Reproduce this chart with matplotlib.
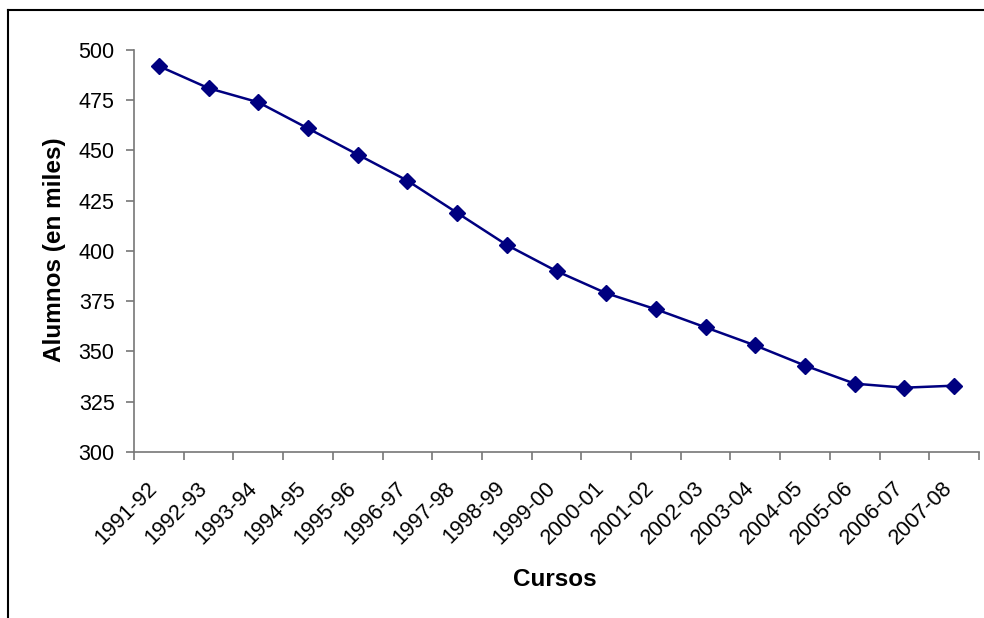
import matplotlib
matplotlib.use('Agg')
import matplotlib.pyplot as plt
import matplotlib.transforms as mtransforms
from matplotlib.lines import Line2D
import numpy as np

cursos = ['1991-92', '1992-93', '1993-94', '1994-95', '1995-96', '1996-97',
          '1997-98', '1998-99', '1999-00', '2000-01', '2001-02', '2002-03',
          '2003-04', '2004-05', '2005-06', '2006-07', '2007-08']
alumnos = [492, 481, 474, 461, 448, 435, 419, 403, 390, 379, 371, 362,
           353, 343, 334, 332, 333]
y_ticks = [300, 325, 350, 375, 400, 425, 450, 475, 500]

plt.rcParams['font.family'] = ['Liberation Sans', 'DejaVu Sans']

fig = plt.figure(figsize=(9.84, 6.18), dpi=100)
ax = fig.add_axes([134 / 984, 1 - 452 / 618, (979 - 134) / 984, (452 - 50) / 618])

x = np.arange(len(cursos))
ax.plot(x, alumnos, color='#000080', linewidth=1.8, marker='D',
        markersize=8, markerfacecolor='#000080', markeredgecolor='#000080')

ax.set_xlim(-0.5, len(cursos) - 0.5)
ax.set_ylim(300, 500)
ax.set_yticks(y_ticks)
ax.set_yticklabels([str(v) for v in y_ticks], fontsize=15.5)

# category labels at centres, tick marks between categories
ax.set_xticks(x)
ax.set_xticklabels(cursos, rotation=45, ha='right', rotation_mode='anchor', fontsize=15.5)
ax.set_xticks(np.arange(len(cursos) + 1) - 0.5, minor=True)
ax.tick_params(axis='x', which='major', length=0, pad=12)
ax.tick_params(axis='x', which='minor', length=6, width=1.2, color='#777777', direction='out')
ax.tick_params(axis='y', length=6, width=1.2, color='#777777', direction='out', pad=8)

# nudge rotated labels so their ends sit just left of the category centre
offset = mtransforms.ScaledTranslation(-12 / 100, -9 / 100, fig.dpi_scale_trans)
for lbl in ax.get_xticklabels():
    lbl.set_transform(lbl.get_transform() + offset)

for side in ['top', 'right']:
    ax.spines[side].set_visible(False)
for side in ['left', 'bottom']:
    ax.spines[side].set_color('#777777')
    ax.spines[side].set_linewidth(1.2)

ax.set_xlabel('Cursos', fontsize=17.5, fontweight='bold')
ax.xaxis.set_label_coords((555 - 134) / (979 - 134), -(580 - 452) / (452 - 50))
ax.set_ylabel('Alumnos (en miles)', fontsize=17.5, fontweight='bold')
ax.yaxis.set_label_coords(-(134 - 55) / (979 - 134), (452 - 250) / (452 - 50))
ax.xaxis.label.set_va('center')
ax.yaxis.label.set_va('center')

# chart frame (only top and left edges visible in the crop)
fig.add_artist(Line2D([8 / 984, 8 / 984], [0, 1 - 10 / 618], color='black', linewidth=1.5))
fig.add_artist(Line2D([8 / 984, 1], [1 - 10 / 618, 1 - 10 / 618], color='black', linewidth=1.5))

fig.savefig('out.png', dpi=100)
